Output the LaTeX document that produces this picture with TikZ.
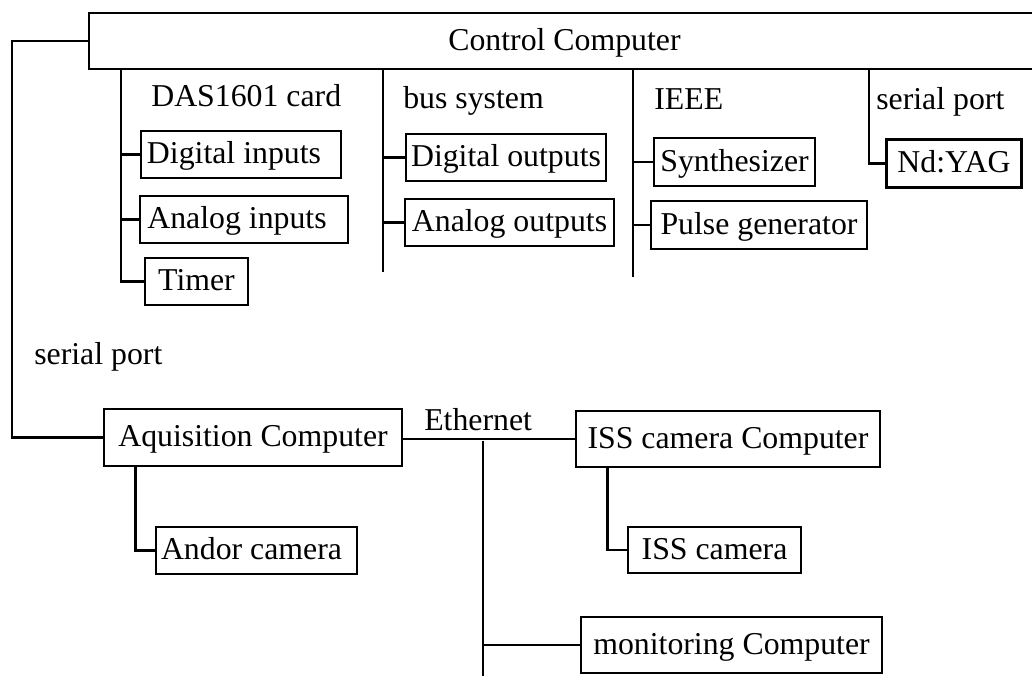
\documentclass[tikz,border=0pt]{standalone}
\usepackage{fontspec}
\setmainfont{Liberation Serif}

\begin{document}
\begin{tikzpicture}[x=0.5pt,y=-0.5pt,font=\fontsize{15.9pt}{19pt}\selectfont,line width=1.3pt]
  \tikzset{unitbox/.style={draw,line width=1.3pt,inner sep=0pt,minimum height=23.5pt,text height=11pt,text depth=2pt,align=center},
    portlabel/.style={inner sep=0pt,anchor=base west}}
  \useasboundingbox (0,0) rectangle (1032,675);
  % control computer and its interfaces
  \node[unitbox,minimum width=475.5pt,minimum height=28pt] (ctrl) at (564.5,41) {Control Computer};
  \node[unitbox,minimum width=100pt] (digin) at (241,154.5) {Digital inputs\hspace{7pt}};
  \node[unitbox,minimum width=104pt] (anain) at (244,219.5) {Analog inputs\hspace{7pt}};
  \node[unitbox,minimum width=51.5pt] (timer) at (196.5,281.5) {Timer};
  \node[unitbox,minimum width=100pt] (digout) at (506,157.5) {Digital outputs};
  \node[unitbox,minimum width=104.5pt] (anaout) at (509.5,222.5) {Analog outputs};
  \node[unitbox,minimum width=80.5pt,minimum height=24pt] (synth) at (734.5,162) {Synthesizer};
  \node[unitbox,minimum width=108pt,minimum height=24pt] (pulse) at (759,225) {Pulse generator};
  \node[unitbox,minimum width=67.5pt,minimum height=24pt] (ndyag) at (954,163.5) {Nd:YAG};
  \node[portlabel] (daslabel) at (150,106) {DAS1601 card};
  \node[portlabel] (buslabel) at (402,108) {bus system};
  \node[portlabel] (ieeelabel) at (653,109) {IEEE};
  \node[portlabel] (serlabel) at (875,109) {serial port};
  % acquisition side
  \node[unitbox,minimum width=149pt,minimum height=28.5pt] (acq) at (253,437.5) {Aquisition Computer};
  \node[unitbox,minimum width=100.5pt] (andor) at (256.5,550.5) {Andor camera\hspace{5pt}};
  \node[unitbox,minimum width=152pt,minimum height=28pt] (isscomp) at (728,439) {ISS camera Computer};
  \node[unitbox,minimum width=86.5pt,minimum height=23pt] (isscam) at (714.5,550) {ISS camera};
  \node[unitbox,minimum width=150.5pt,minimum height=28pt] (monitor) at (731.5,645) {monitoring Computer};
  \node[portlabel] (linklabel) at (33,364) {serial port};
  \node[portlabel] (ethlabel) at (423,430) {Ethernet};
  % trunk lines
  \coordinate (das) at (121,0);
  \coordinate (busEnd) at (383,272);
  \coordinate (ieeeEnd) at (633,277);
  \coordinate (ser) at (869,0);
  \coordinate (link) at (12,0);
  \coordinate (eth) at (483,441);
  \coordinate (ethEnd) at (483,677);
  \draw (ctrl.south -| das) |- (timer.west);
  \draw (das |- digin.west) -- (digin.west);
  \draw (das |- anain.west) -- (anain.west);
  \draw (ctrl.south -| busEnd) -- (busEnd);
  \draw (busEnd |- digout.west) -- (digout.west);
  \draw (busEnd |- anaout.west) -- (anaout.west);
  \draw (ctrl.south -| ieeeEnd) -- (ieeeEnd);
  \draw (ieeeEnd |- synth.west) -- (synth.west);
  \draw (ieeeEnd |- pulse.west) -- (pulse.west);
  \draw (ctrl.south -| ser) |- (ndyag.west);
  \draw (ctrl.west) -- (ctrl.west -| link) -- (acq.west -| link) -- (acq.west);
  \draw ([xshift=16.5pt]acq.south west) |- (andor.west);
  \draw (acq.east |- isscomp.west) -- (isscomp.west);
  \draw (eth) -- (ethEnd);
  \draw (eth |- monitor.west) -- (monitor.west);
  \draw ([xshift=16.5pt]isscomp.south west) |- (isscam.west);
\end{tikzpicture}
\end{document}
